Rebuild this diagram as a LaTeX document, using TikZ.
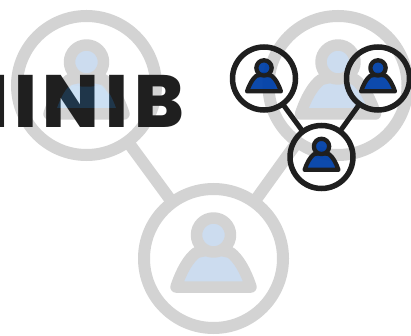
\documentclass[tikz,border=0pt]{standalone}
\usepackage{fontspec}
\newfontfamily\titlefont[LetterSpace=8]{Poppins ExtraBold}
\usetikzlibrary{positioning}
\definecolor{ringgray}{HTML}{D3D3D3}
\definecolor{paleblue}{HTML}{CCDCEF}
\definecolor{deepblue}{HTML}{0040A8}
\definecolor{inkblack}{HTML}{1F1F1F}
\definecolor{inktint}{HTML}{001A30}
\tikzset{
  bigring/.style={circle,draw=ringgray,line width=12pt,minimum size=139pt,inner sep=0pt,outer sep=0pt},
  smallring/.style={circle,draw=inkblack,line width=5.5pt,minimum size=63pt,inner sep=0pt,outer sep=0pt},
  biglink/.style={draw=ringgray,line width=12pt},
  smalllink/.style={draw=inkblack,line width=5pt},
  bigperson/.style={draw=ringgray,fill=paleblue,line width=11.5pt,line join=round},
  smallperson/.style={draw=inkblack,fill=deepblue,fill opacity=.95,line width=4.3pt,line join=round},
  titletint/.style={fill=inktint,blend mode=screen},
  person/.pic={
    \path[pic actions] (-37.5,28.5) .. controls (-32,12) and (-25,0) .. (-17,-6) -- (0,-10) -- (17,-6) .. controls (25,0) and (32,12) .. (37.5,28.5) -- cycle;
    \path[pic actions] (0,-23.5) circle (17);
  },
  bodytint/.pic={
    \path[pic actions] (-29.5,22.5) .. controls (-25,10) and (-20,2) .. (-15,-1) .. controls (-8,2) and (8,2) .. (15,-1) .. controls (20,2) and (25,10) .. (29.5,22.5) -- cycle;
  }
}
\begin{document}
\begin{tikzpicture}[x=1pt,y=-1pt]
\useasboundingbox (0,0) rectangle (411,336);
% grey network
\node[bigring] (Left) at (86.5,85.5) {};
\node[bigring] (Right) at (338,85.5) {};
\node[bigring] (Bottom) at (213.5,258.5) {};
\path[biglink] (Left) -- (Bottom);
\path[biglink] (Right) -- (Bottom);
\pic[bigperson] at (Left) {person};
\pic[bigperson] at (Right) {person};
\pic[bigperson] at (Bottom) {person};
% title
\node[anchor=base east,inner sep=0pt,text=inkblack] (Title) at (184,128)
  {\fontsize{74}{74}\titlefont MINIB};
\pic[titletint] at (Left) {bodytint};
% black network
\node[smallring] (SmallLeft) at (264,78.5) {};
\node[smallring] (SmallRight) at (378,78.5) {};
\node[smallring] (SmallBottom) at (321.5,157) {};
\path[smalllink] (SmallLeft) -- (SmallBottom);
\path[smalllink] (SmallRight) -- (SmallBottom);
\pic[smallperson,scale=.45] at (SmallLeft) {person};
\pic[smallperson,scale=.45] at (SmallRight) {person};
\pic[smallperson,scale=.45] at (SmallBottom) {person};
\end{tikzpicture}
\end{document}
